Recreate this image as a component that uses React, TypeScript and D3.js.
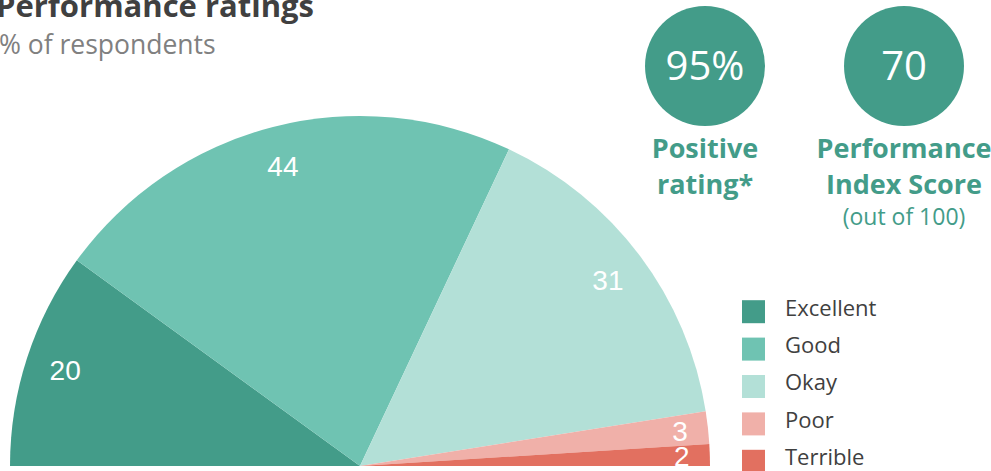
import { useEffect, useRef } from "react";
import * as d3 from "d3";

const categories = ["Excellent", "Good", "Okay", "Poor", "Terrible"];
const values = [20, 44, 31, 3, 2];
const colors = ["#439c89", "#6fc3b2", "#b3e0d7", "#f0b0a9", "#e27060"];
const kpiValues = ["95%", "70"];
const kpiTitles = [["Positive", "rating*"], ["Performance", "Index Score"]];
const kpiNotes = ["", "(out of 100)"];

const W = 991;
const H = 471;
const FONT = "'Open Sans', 'Liberation Sans', sans-serif";

export default function App() {
  const ref = useRef<SVGSVGElement>(null);

  useEffect(() => {
    const svg = d3.select(ref.current);
    svg.selectAll("*").remove();

    // title
    svg.append("text")
      .attr("x", -4).attr("y", 17)
      .attr("font-family", FONT).attr("font-weight", 700).attr("font-size", 31)
      .attr("fill", "#404040")
      .text("Performance ratings");
    svg.append("text")
      .attr("x", -1).attr("y", 54)
      .attr("font-family", FONT).attr("font-size", 26.5)
      .attr("fill", "#808080")
      .text("% of respondents");

    // half pie
    const cx = 360, cy = 466, r = 350;
    const pie = d3.pie<number>().sort(null)
      .startAngle(-Math.PI / 2).endAngle(Math.PI / 2);
    const arcs = pie(values);
    const arc = d3.arc<d3.PieArcDatum<number>>().innerRadius(0).outerRadius(r);
    const g = svg.append("g").attr("transform", `translate(${cx},${cy})`);
    g.selectAll("path").data(arcs).enter().append("path")
      .attr("d", arc)
      .attr("fill", (_, i) => colors[i]);

    g.selectAll("text.lbl").data(arcs).enter().append("text")
      .attr("class", "lbl")
      .attr("transform", (d) => {
        const lr = d.value < 5 ? 322 : 310;
        const a = (d.startAngle + d.endAngle) / 2;
        return `translate(${Math.sin(a) * lr},${-Math.cos(a) * lr})`;
      })
      .attr("text-anchor", "middle").attr("dy", "0.36em")
      .attr("font-family", "'Liberation Sans', Arial, sans-serif").attr("font-size", 28)
      .attr("fill", "#ffffff")
      .text((d) => d.value);

    // KPI circles
    const kx = d3.scalePoint<number>().domain([0, 1]).range([705, 904]);
    kpiValues.forEach((v, i) => {
      const x = kx(i)!;
      svg.append("circle").attr("cx", x).attr("cy", 66).attr("r", 60).attr("fill", "#439c89");
      svg.append("text").attr("x", x).attr("y", 66).attr("dy", "0.36em")
        .attr("text-anchor", "middle").attr("font-family", FONT).attr("font-size", 40)
        .attr("fill", "#ffffff").text(v);
      kpiTitles[i].forEach((t, j) => {
        svg.append("text").attr("x", x).attr("y", 158 + j * 36)
          .attr("text-anchor", "middle").attr("font-family", FONT)
          .attr("font-weight", 700).attr("font-size", 27)
          .attr("fill", "#439c89").text(t);
      });
      if (kpiNotes[i]) {
        svg.append("text").attr("x", x).attr("y", 225)
          .attr("text-anchor", "middle").attr("font-family", FONT).attr("font-size", 23)
          .attr("fill", "#439c89").text(kpiNotes[i]);
      }
    });

    // legend
    const ly = d3.scaleBand<string>().domain(categories).range([289, 476]);
    const leg = svg.append("g");
    const items = leg.selectAll("g").data(categories).enter().append("g")
      .attr("transform", (d) => `translate(742,${ly(d)! + ly.bandwidth() / 2})`);
    items.append("rect").attr("x", 0).attr("y", -7.5).attr("width", 23).attr("height", 23)
      .attr("fill", (_, i) => colors[i]);
    items.append("text").attr("x", 43).attr("dy", "0.36em")
      .attr("font-family", FONT).attr("font-size", 22).attr("fill", "#404040")
      .text((d) => d);
  }, []);

  return (
    <svg ref={ref} width={W} height={H}
      style={{ position: "absolute", left: 0, top: 0, background: "#fff" }} />
  );
}
